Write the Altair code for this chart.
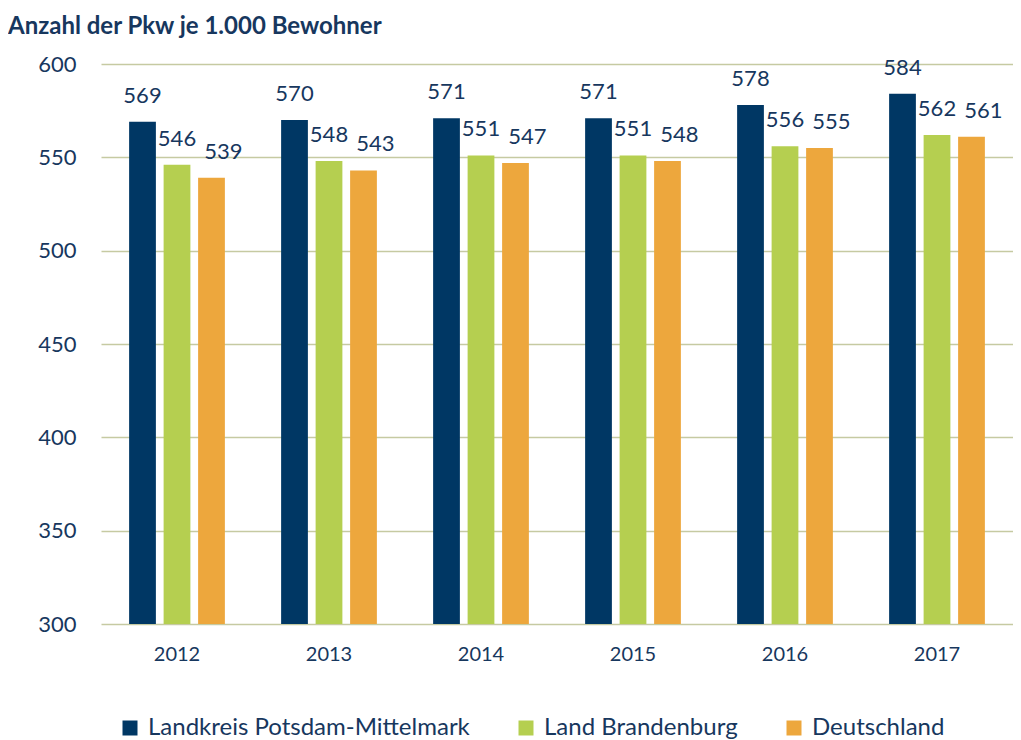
import altair as alt
import pandas as pd

years = ["2012", "2013", "2014", "2015", "2016", "2017"]
series = ["Landkreis Potsdam-Mittelmark", "Land Brandenburg", "Deutschland"]
potsdam = [569, 570, 571, 571, 578, 584]
brandenburg = [546, 548, 551, 551, 556, 562]
deutschland = [539, 543, 547, 548, 555, 561]
colors = ["#003764", "#b5cf50", "#eda73d"]

rows = []
for s, vals in zip(series, [potsdam, brandenburg, deutschland]):
    for y, v in zip(years, vals):
        rows.append({"Jahr": y, "Reihe": s, "Wert": v})
df = pd.DataFrame(rows)

TXT = "#17375e"
FONT = "Lato"

x = alt.X("Jahr:N", sort=years, title=None,
          scale=alt.Scale(paddingInner=0.37, paddingOuter=0.185),
          axis=alt.Axis(labelAngle=0, labelFontSize=20, labelColor=TXT, labelFont=FONT,
                        ticks=False, domain=False, labelPadding=20))
y = alt.Y("Wert:Q", title=None,
          scale=alt.Scale(domain=[300, 600], zero=False, nice=False),
          axis=alt.Axis(values=[300, 350, 400, 450, 500, 550, 600], labelFontSize=22,
                        labelColor=TXT, labelFont=FONT, ticks=False, domain=False,
                        labelPadding=25, gridColor="#c6caa2", gridWidth=1.5))
xo = alt.XOffset("Reihe:N", sort=series, scale=alt.Scale(paddingInner=0.224, paddingOuter=0))

bars = alt.Chart(df).mark_bar(clip=True).encode(
    x=x, y=y, xOffset=xo,
    color=alt.Color("Reihe:N", sort=series, title=None,
                    scale=alt.Scale(domain=series, range=colors),
                    legend=alt.Legend(orient="none", direction="horizontal",
                                      legendX=17, legendY=652,
                                      symbolType="square", symbolSize=225,
                                      symbolStrokeWidth=0, labelOffset=6,
                                      labelFontSize=24, labelColor=TXT, labelFont=FONT,
                                      columnPadding=44, labelLimit=500))
)

labels_main = alt.Chart(df).transform_filter(
    alt.datum.Reihe != "Deutschland"
).mark_text(fontSize=22, color=TXT, font=FONT, baseline="alphabetic", dy=-19).encode(
    x=x, y=y, xOffset=xo, text=alt.Text("Wert:Q")
)
labels_de = alt.Chart(df).transform_filter(
    alt.datum.Reihe == "Deutschland"
).mark_text(fontSize=22, color=TXT, font=FONT, baseline="alphabetic", dy=-19, dx=12).encode(
    x=x, y=y, xOffset=xo, text=alt.Text("Wert:Q")
)

chart = (bars + labels_main + labels_de).properties(
    width=912, height=560,
    autosize=alt.AutoSizeParams(type="none"),
    padding={"left": 93, "top": 56, "right": 0, "bottom": 118},
    title=alt.TitleParams("Anzahl der Pkw je 1.000 Bewohner", anchor="start", frame="group",
                          fontSize=24, fontWeight="bold", color=TXT, font=FONT,
                          dx=-93, offset=14),
).configure_view(stroke=None)

chart.save("out.html", embed_options={"renderer": "svg", "actions": False})
